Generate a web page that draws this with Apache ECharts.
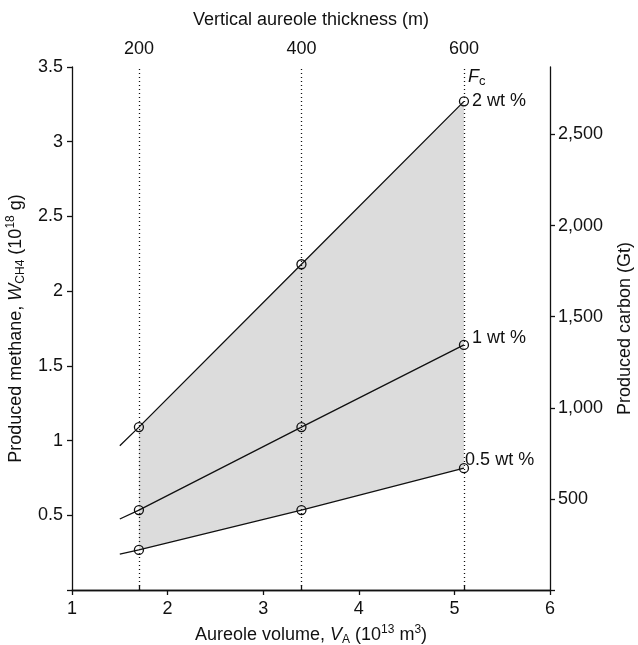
<!DOCTYPE html>
<html><head><meta charset="utf-8">
<script src="https://cdn.jsdelivr.net/npm/echarts@6/dist/echarts.min.js"></script>
<style>html,body{margin:0;padding:0;background:#fff}#c{width:638px;height:645px}</style>
</head><body><div id="c"></div>
<script>
// ---- data ----
const volumes = [1.7, 3.4, 5.1];                 // aureole volume (10^13 m^3) of the dotted guides / markers
const lineStartVolume = 1.5;                      // where the fitted lines begin
const thicknessTicks = [200, 400, 600];           // top axis tick labels (m)
const thicknessPerVolume = 200 / 1.7;             // m per 10^13 m^3
const methane2wt = [1.09, 2.18, 3.27];
const methane1wt = [0.535, 1.09, 1.64];
const methane05wt = [0.268, 0.535, 0.815];
const lineStartValues = [0.965, 0.475, 0.24];     // 2, 1, 0.5 wt % at x = 1.5
const seriesLabels = ['2 wt %', '1 wt %', '0.5 wt %'];
const xMin = 1, xMax = 6, xInterval = 1;
const yMin = 0, yMax = 3.5, yInterval = 0.5;
const carbonMax = 2870, carbonInterval = 500;

const FONT = '"Liberation Sans", Arial, Helvetica, sans-serif';
const BLACK = '#111';
const FS = 18;

function pts(vals) { return volumes.map((v, i) => [v, vals[i]]); }
function linePts(start, vals) { return [[lineStartVolume, start]].concat(pts(vals)); }

const allSets = [methane2wt, methane1wt, methane05wt];
const labelOffsets = [[0, 0], [0, -7], [-7, -8]];

const series = [];
// shaded band between 0.5 wt % and 2 wt %
series.push({
  type: 'custom', xAxisIndex: 0, yAxisIndex: 0, z: 1, silent: true,
  data: [[volumes[0], methane05wt[0]]],
  renderItem: function (params, api) {
    const top = pts(methane2wt).map(p => api.coord(p));
    const bot = pts(methane05wt).map(p => api.coord(p)).reverse();
    return { type: 'polygon', shape: { points: top.concat(bot) }, style: { fill: '#dcdcdc', stroke: 'none' } };
  },
  markLine: {
    silent: true, symbol: ['none', 'none'], label: { show: false },
    lineStyle: { color: '#111', type: [1, 3], width: 1.3 },
    data: volumes.map(v => ({ xAxis: v }))
  }
});
allSets.forEach((vals, k) => {
  series.push({
    type: 'line', xAxisIndex: 0, yAxisIndex: 0, z: 3, showSymbol: false, silent: true,
    data: linePts(lineStartValues[k], vals),
    lineStyle: { color: '#111', width: 1.3 }
  });
  const sd = pts(vals).map((p, i) => i === vals.length - 1 ? {
    value: p,
    label: { show: true, position: 'right', distance: 3, offset: labelOffsets[k],
      formatter: seriesLabels[k], color: BLACK, opacity: 1, fontSize: FS, fontFamily: FONT }
  } : p);
  series.push({
    type: 'scatter', xAxisIndex: 0, yAxisIndex: 0, z: 4, silent: true,
    symbol: 'circle', symbolSize: 9,
    itemStyle: { color: 'rgba(255,255,255,0)', borderColor: '#111', borderWidth: 1.3, opacity: 1 },
    data: sd
  });
});
// F_c label
series.push({
  type: 'scatter', xAxisIndex: 0, yAxisIndex: 0, z: 4, silent: true, symbolSize: 0,
  itemStyle: { opacity: 1 },
  data: [{ value: [volumes[2], methane2wt[2]],
    label: { show: true, position: 'right', distance: 4, offset: [0, -24], opacity: 1,
      formatter: '{i|F}{s|c}',
      rich: { i: { fontStyle: 'italic', fontSize: FS, color: BLACK, fontFamily: FONT },
              s: { fontSize: 13, color: BLACK, fontFamily: FONT, verticalAlign: 'bottom', padding: [9, 0, 0, 0] } } } }]
});

const axisLine = { show: true, lineStyle: { color: '#111', width: 1.3 } };
const tickStyle = { lineStyle: { color: '#111', width: 1.3 } };
const labelStyle = { color: BLACK, fontSize: FS, fontFamily: FONT };
const nameBase = { color: BLACK, fontSize: FS, fontFamily: FONT };
const richBase = {
  i: { fontStyle: 'italic', fontSize: FS, color: BLACK, fontFamily: FONT },
  sub: { fontSize: 12, color: BLACK, fontFamily: FONT, verticalAlign: 'bottom', padding: [10, 0, 0, 0] },
  sup: { fontSize: 12, color: BLACK, fontFamily: FONT, verticalAlign: 'top', padding: [0, 0, 9, 0] }
};

const option = {
  animation: false,
  backgroundColor: '#fff',
  grid: { left: 72, right: 88, top: 67, bottom: 55, containLabel: false, outerBoundsMode: 'none' },
  xAxis: [
    { type: 'value', position: 'bottom', min: xMin, max: xMax, interval: xInterval,
      axisLine, axisTick: Object.assign({ show: true, inside: false, length: 5 }, tickStyle),
      axisLabel: Object.assign({ margin: 10 }, labelStyle),
      splitLine: { show: false },
      name: 'Aureole volume, {i|V}{sub|A} (10{sup|13} m{sup|3})',
      nameLocation: 'middle', nameGap: 34,
      nameTextStyle: Object.assign({ rich: richBase }, nameBase) },
    { type: 'value', position: 'top', min: xMin * thicknessPerVolume, max: xMax * thicknessPerVolume,
      axisLine, axisTick: Object.assign({ show: true, inside: false, length: 5, customValues: thicknessTicks }, tickStyle),
      axisLabel: Object.assign({ margin: 9, customValues: thicknessTicks }, labelStyle),
      splitLine: { show: false },
      name: 'Vertical aureole thickness (m)', nameLocation: 'middle', nameGap: 38,
      nameTextStyle: nameBase }
  ],
  yAxis: [
    { type: 'value', position: 'left', min: yMin, max: yMax, interval: yInterval,
      axisLine, axisTick: Object.assign({ show: true, inside: false, length: 5 }, tickStyle),
      axisLabel: Object.assign({ margin: 9, formatter: v => v === 0 ? '' : String(v) }, labelStyle),
      splitLine: { show: false },
      name: 'Produced methane, {i|W}{sub|CH4} (10{sup|18} g)',
      nameLocation: 'middle', nameGap: 38,
      nameTextStyle: Object.assign({ rich: richBase }, nameBase) },
    { type: 'value', position: 'right', min: 0, max: carbonMax, interval: carbonInterval,
      axisLine, axisTick: Object.assign({ show: true, inside: false, length: 5 }, tickStyle),
      axisLabel: Object.assign({ margin: 8, showMaxLabel: false,
        formatter: v => v === 0 ? '' : v.toLocaleString('en-US') }, labelStyle),
      splitLine: { show: false },
      name: 'Produced carbon (Gt)', nameLocation: 'middle', nameGap: 66,
      nameTextStyle: nameBase }
  ],
  series
};
const chart = echarts.init(document.getElementById('c'), null, { renderer: 'canvas' });
chart.setOption(option);
</script></body></html>
